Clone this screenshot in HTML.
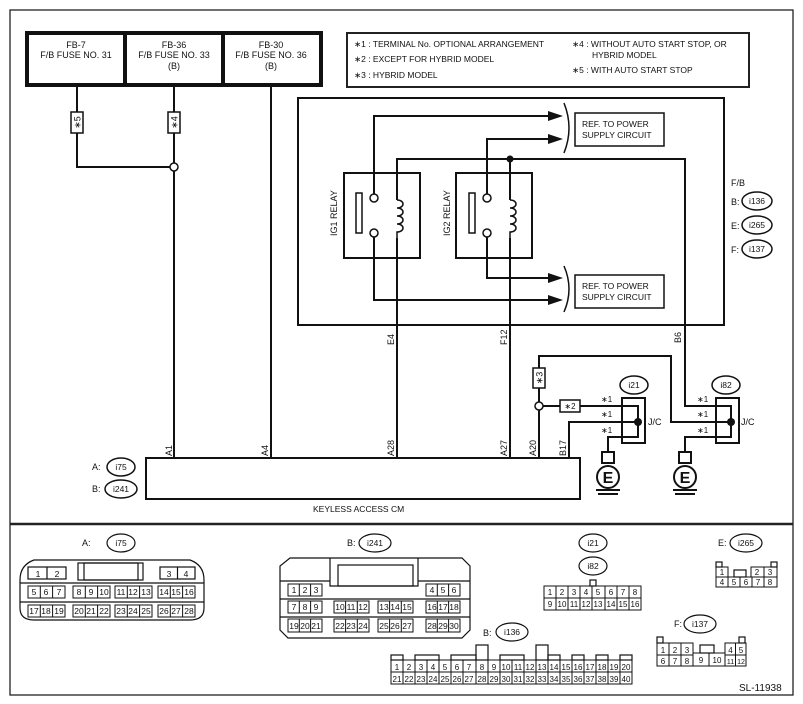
<!DOCTYPE html>
<html><head><meta charset="utf-8"><style>
html,body{margin:0;padding:0;background:#fff}
svg{display:block}
text{font-family:"Liberation Sans","DejaVu Sans",Arial,sans-serif;fill:#111}
.s{font-size:9px}
.c{font-size:8.5px;text-anchor:middle}
</style></head><body>
<svg width="803" height="704" viewBox="0 0 803 704" xmlns="http://www.w3.org/2000/svg">
<g fill="none" stroke="#222" stroke-width="1.3">
<rect x="10" y="10" width="783" height="685"/>
</g>
<line x1="10" y1="524" x2="793" y2="524" stroke="#222" stroke-width="2.5"/>

<rect x="27" y="33" width="294" height="52" fill="#fff" stroke="#111" stroke-width="4"/>
<line x1="125" y1="33" x2="125" y2="85" stroke="#111" stroke-width="4"/>
<line x1="223" y1="33" x2="223" y2="85" stroke="#111" stroke-width="4"/>
<g class="s" text-anchor="middle">
<text x="76" y="48">FB-7</text><text x="76" y="58">F/B FUSE NO. 31</text>
<text x="174" y="48">FB-36</text><text x="174" y="58">F/B FUSE NO. 33</text><text x="174" y="69">(B)</text>
<text x="271" y="48">FB-30</text><text x="271" y="58">F/B FUSE NO. 36</text><text x="271" y="69">(B)</text>
</g>

<rect x="347" y="33" width="402" height="54" fill="none" stroke="#222" stroke-width="2"/>
<g font-size="8.5">
<text x="354" y="47">∗1 : TERMINAL No. OPTIONAL ARRANGEMENT</text>
<text x="354" y="62">∗2 : EXCEPT FOR HYBRID MODEL</text>
<text x="354" y="78">∗3 : HYBRID MODEL</text>
<text x="572" y="47">∗4 : WITHOUT AUTO START STOP, OR</text>
<text x="592" y="58">HYBRID MODEL</text>
<text x="572" y="73">∗5 : WITH AUTO START STOP</text>
</g>

<g fill="none" stroke="#111" stroke-width="2">
<polyline points="77,86 77,167 174,167"/>
<line x1="174" y1="86" x2="174" y2="458"/>
<line x1="271" y1="86" x2="271" y2="458"/>
<rect x="298" y="98" width="426" height="227" stroke-width="2"/>
<rect x="344" y="173" width="76" height="85"/>
<rect x="456" y="173" width="76" height="85"/>
<polyline points="374,194 374,116 550,116"/>
<polyline points="374,237 374,300 550,300"/>
<polyline points="487,194 487,139 550,139"/>
<polyline points="487,237 487,278 550,278"/>
<polyline points="397,458 397,159 685,159 685,406 731,406 731,422"/>
<line x1="510" y1="159" x2="510" y2="458"/>
<polyline points="539,458 539,356 671,356 671,422 731,422"/>
<polyline points="539,406 638,406 638,422"/>
<polyline points="569,458 569,422 638,422"/>
<polyline points="608,448 608,437 638,437 638,422"/>
<polyline points="685,448 685,437 731,437 731,422"/>
</g>
<g fill="#fff" stroke="#111" stroke-width="1.5">
<rect x="71" y="112" width="12" height="21"/>
<rect x="168" y="112" width="12" height="21"/>
<rect x="533" y="368" width="12" height="20"/>
<rect x="560" y="400" width="20" height="12"/>
<rect x="356" y="193" width="6" height="40"/>
<rect x="469" y="193" width="6" height="40"/>
<circle cx="374" cy="198" r="4"/><circle cx="374" cy="233" r="4"/>
<circle cx="487" cy="198" r="4"/><circle cx="487" cy="233" r="4"/>
<rect x="392" y="200" width="14" height="38" stroke="none"/>
<rect x="505" y="200" width="14" height="38" stroke="none"/>
<circle cx="174" cy="167" r="4"/>
<circle cx="539" cy="406" r="4"/>
</g>
<g fill="none" stroke="#111" stroke-width="1.5">
<path d="M397,200 c8,0 8,8 0,8 c8,0 8,8 0,8 c8,0 8,8 0,8 c8,0 8,8 0,8 l0,6"/>
<path d="M510,200 c8,0 8,8 0,8 c8,0 8,8 0,8 c8,0 8,8 0,8 c8,0 8,8 0,8 l0,6"/>
<path d="M564,103 q10,25 0,50"/>
<path d="M564,266 q10,23 0,46"/>
</g>
<circle cx="510" cy="159" r="3.5" fill="#111"/>
<circle cx="638" cy="422" r="4" fill="#111"/>
<circle cx="731" cy="422" r="4" fill="#111"/>
<g fill="#111">
<polygon points="548,111 563,116 548,121"/>
<polygon points="548,134 563,139 548,144"/>
<polygon points="548,273 563,278 548,283"/>
<polygon points="548,295 563,300 548,305"/>
</g>
<g class="s">
<text transform="translate(337,236) rotate(-90)">IG1 RELAY</text>
<text transform="translate(450,236) rotate(-90)">IG2 RELAY</text>
<text transform="translate(80.5,122.5) rotate(-90)" text-anchor="middle">∗5</text>
<text transform="translate(177.5,122.5) rotate(-90)" text-anchor="middle">∗4</text>
<text transform="translate(542.5,378) rotate(-90)" text-anchor="middle">∗3</text>
<text x="570" y="409" font-size="8" text-anchor="middle">∗2</text>
</g>
<g fill="#fff" stroke="#111" stroke-width="1.5">
<rect x="575" y="113" width="89" height="33"/>
<rect x="575" y="275" width="89" height="33"/>
</g>
<g font-size="8.5">
<text x="582" y="127">REF. TO POWER</text><text x="582" y="138">SUPPLY CIRCUIT</text>
<text x="582" y="289">REF. TO POWER</text><text x="582" y="300">SUPPLY CIRCUIT</text>
</g>
<g class="s">
<text x="731" y="186">F/B</text>
<text x="731" y="205">B:</text><text x="731" y="229">E:</text><text x="731" y="253">F:</text>
</g>
<g fill="none" stroke="#111" stroke-width="1.5">
<ellipse cx="757" cy="201" rx="15" ry="9"/>
<ellipse cx="757" cy="225" rx="15" ry="9"/>
<ellipse cx="757" cy="249" rx="15" ry="9"/>
<ellipse cx="121" cy="467" rx="14" ry="9"/>
<ellipse cx="121" cy="489" rx="16" ry="9"/>
<ellipse cx="634" cy="385" rx="14" ry="9"/>
<ellipse cx="726" cy="385" rx="14" ry="9"/>
</g>
<g class="c">
<text x="757" y="204">i136</text><text x="757" y="228">i265</text><text x="757" y="252">i137</text>
<text x="121" y="470">i75</text><text x="121" y="492">i241</text>
<text x="634" y="388">i21</text><text x="726" y="388">i82</text>
</g>
<g class="s">
<text x="92" y="470">A:</text><text x="92" y="492">B:</text>
<text transform="translate(394,345) rotate(-90)">E4</text>
<text transform="translate(507,345) rotate(-90)">F12</text>
<text transform="translate(681,343) rotate(-90)">B6</text>
<text transform="translate(172,456) rotate(-90)">A1</text>
<text transform="translate(268,456) rotate(-90)">A4</text>
<text transform="translate(394,456) rotate(-90)">A28</text>
<text transform="translate(507,456) rotate(-90)">A27</text>
<text transform="translate(536,456) rotate(-90)">A20</text>
<text transform="translate(566,456) rotate(-90)">B17</text>
<text x="648" y="425">J/C</text><text x="741" y="425">J/C</text>
<text x="601" y="402" font-size="8">∗1</text><text x="601" y="417" font-size="8">∗1</text><text x="601" y="433" font-size="8">∗1</text>
<text x="697" y="402" font-size="8">∗1</text><text x="697" y="417" font-size="8">∗1</text><text x="697" y="433" font-size="8">∗1</text>
<text x="313" y="512" font-size="8.5">KEYLESS ACCESS CM</text>
</g>
<g fill="none" stroke="#111" stroke-width="2">
<rect x="622" y="398" width="23" height="45"/>
<rect x="716" y="398" width="23" height="45"/>
<rect x="146" y="458" width="434" height="41"/>
</g>
<g fill="#fff" stroke="#111" stroke-width="2">
<rect x="602" y="452" width="12" height="11"/>
<circle cx="608" cy="477" r="11"/>
<rect x="679" y="452" width="12" height="11"/>
<circle cx="685" cy="477" r="11"/>
</g>
<line x1="608" y1="448" x2="608" y2="452" stroke="#111" stroke-width="2"/>
<line x1="685" y1="448" x2="685" y2="452" stroke="#111" stroke-width="2"/>
<g stroke="#111" stroke-width="2">
<line x1="596" y1="490" x2="620" y2="490"/><line x1="598" y1="494" x2="618" y2="494"/>
<line x1="673" y1="490" x2="697" y2="490"/><line x1="675" y1="494" x2="695" y2="494"/>
</g>
<text x="608" y="483" font-size="16" font-weight="bold" text-anchor="middle">E</text>
<text x="685" y="483" font-size="16" font-weight="bold" text-anchor="middle">E</text>

<g fill="none" stroke="#111" stroke-width="1.2">
<ellipse cx="121" cy="543" rx="14" ry="9"/>
<path d="M34,560 L190,560 Q204,565 204,580 L204,608 Q204,620 190,620 L34,620 Q20,620 20,608 L20,580 Q20,565 34,560 Z"/>
<line x1="20" y1="583" x2="204" y2="583"/><line x1="20" y1="602" x2="204" y2="602"/>
<rect x="78" y="563" width="65" height="17"/><rect x="84" y="563" width="54" height="17"/>
<rect x="28" y="567" width="38" height="12"/><line x1="47" y1="567" x2="47" y2="579"/>
<rect x="160" y="567" width="35" height="12"/><line x1="177.5" y1="567" x2="177.5" y2="579"/>
<ellipse cx="375" cy="543" rx="16" ry="9"/>
<path d="M290,558 L462,558 L470,566 L470,630 L462,638 L288,638 L280,630 L280,566 Z"/>
<line x1="280" y1="581" x2="330" y2="581"/><line x1="418" y1="581" x2="470" y2="581"/>
<line x1="280" y1="599" x2="470" y2="599"/><line x1="280" y1="617" x2="470" y2="617"/>
<path d="M330,558 L330,586 L418,586 L418,558"/><rect x="338" y="565" width="75" height="21"/>
<ellipse cx="593" cy="543" rx="14" ry="9"/><ellipse cx="593" cy="566" rx="14" ry="9"/>
<rect x="590" y="580" width="6" height="6"/>
<ellipse cx="746" cy="543" rx="16" ry="9"/>
<rect x="716" y="562" width="6" height="5"/><rect x="771" y="562" width="6" height="5"/>
<rect x="734" y="570" width="12" height="7"/>
<ellipse cx="700" cy="624" rx="16" ry="9"/>
<rect x="657" y="637" width="6" height="6"/><rect x="739" y="637" width="6" height="6"/>
<rect x="700" y="645" width="14" height="8"/>
<ellipse cx="512" cy="632" rx="16" ry="9"/>
<rect x="391" y="655" width="12" height="5"/><rect x="415" y="655" width="24" height="5"/>
<rect x="451" y="655" width="25" height="5"/><rect x="476" y="645" width="12" height="15"/>
<rect x="500" y="655" width="24" height="5"/><rect x="536" y="645" width="12" height="15"/>
<rect x="548" y="655" width="12" height="5"/><rect x="572" y="655" width="12" height="5"/>
<rect x="596" y="655" width="12" height="5"/><rect x="620" y="655" width="12" height="5"/>
</g>
<g class="s"><text x="82" y="546">A:</text><text x="347" y="546">B:</text><text x="718" y="546">E:</text><text x="674" y="627">F:</text><text x="483" y="636">B:</text></g>
<g class="c"><text x="121" y="546">i75</text><text x="375" y="546">i241</text><text x="593" y="546">i21</text><text x="593" y="569">i82</text><text x="746" y="546">i265</text><text x="700" y="627">i137</text><text x="512" y="635">i136</text></g>

<g fill="none" stroke="#111" stroke-width="1">
<path d="M28,586h37v12h-37zM40.3,586v12M52.6,586v12 M73,586h37v12h-37zM85.3,586v12M97.6,586v12 M115,586h37v12h-37zM127.3,586v12M139.6,586v12 M158,586h37v12h-37zM170.3,586v12M182.6,586v12"/>
<path d="M28,605h37v12h-37zM40.3,605v12M52.6,605v12 M73,605h37v12h-37zM85.3,605v12M97.6,605v12 M115,605h37v12h-37zM127.3,605v12M139.6,605v12 M158,605h37v12h-37zM170.3,605v12M182.6,605v12"/>
<path d="M288,584h34v12h-34zM299.3,584v12M310.6,584v12 M426,584h34v12h-34zM437.3,584v12M448.6,584v12"/>
<path d="M288,601h34v12h-34zM299.3,601v12M310.6,601v12 M334,601h35v12h-35zM345.6,601v12M357.3,601v12 M378,601h35v12h-35zM389.6,601v12M401.3,601v12 M426,601h34v12h-34zM437.3,601v12M448.6,601v12"/>
<path d="M288,619h34v13h-34zM299.3,619v13M310.6,619v13 M334,619h35v13h-35zM345.6,619v13M357.3,619v13 M378,619h35v13h-35zM389.6,619v13M401.3,619v13 M426,619h34v13h-34zM437.3,619v13M448.6,619v13"/>
<path d="M544,586h97v24h-97zM544,598h97M556,586v24M568,586v24M580,586v24M592,586v24M605,586v24M617,586v24M629,586v24"/>
<path d="M716,567h12v10h-12zM751,567h26v10h-26zM764,567v10M716,577h61v10h-61zM728,577v10M740,577v10M752,577v10M764,577v10"/>
<path d="M657,643h36v23h-36zM657,655h36M669,643v23M681,643v23M693,653h32v13h-32zM709,653v13M725,643h21v23h-21zM725,655h21M735.5,643v23"/>
<path d="M391,660h241v24h-241zM391,672h241M403,660v24M415,660v24M427,660v24M439,660v24M451,660v24M463,660v24M476,660v24M488,660v24M500,660v24M512,660v24M524,660v24M536,660v24M548,660v24M560,660v24M572,660v24M584,660v24M596,660v24M608,660v24M620,660v24"/>
</g>

<g class="c">
<text x="38" y="577">1</text><text x="57" y="577">2</text><text x="169" y="577">3</text><text x="186" y="577">4</text>
<text x="34" y="595">5</text><text x="46" y="595">6</text><text x="59" y="595">7</text><text x="79" y="595">8</text><text x="91" y="595">9</text><text x="104" y="595">10</text><text x="121" y="595">11</text><text x="133" y="595">12</text><text x="146" y="595">13</text><text x="164" y="595">14</text><text x="176" y="595">15</text><text x="189" y="595">16</text>
<text x="34" y="614">17</text><text x="46" y="614">18</text><text x="59" y="614">19</text><text x="79" y="614">20</text><text x="91" y="614">21</text><text x="104" y="614">22</text><text x="121" y="614">23</text><text x="133" y="614">24</text><text x="146" y="614">25</text><text x="164" y="614">26</text><text x="176" y="614">27</text><text x="189" y="614">28</text>
<text x="294" y="593">1</text><text x="305" y="593">2</text><text x="316" y="593">3</text><text x="432" y="593">4</text><text x="443" y="593">5</text><text x="454" y="593">6</text>
<text x="294" y="610">7</text><text x="305" y="610">8</text><text x="316" y="610">9</text><text x="340" y="610">10</text><text x="351" y="610">11</text><text x="363" y="610">12</text><text x="384" y="610">13</text><text x="395" y="610">14</text><text x="407" y="610">15</text><text x="432" y="610">16</text><text x="443" y="610">17</text><text x="454" y="610">18</text>
<text x="294" y="629">19</text><text x="305" y="629">20</text><text x="316" y="629">21</text><text x="340" y="629">22</text><text x="351" y="629">23</text><text x="363" y="629">24</text><text x="384" y="629">25</text><text x="395" y="629">26</text><text x="407" y="629">27</text><text x="432" y="629">28</text><text x="443" y="629">29</text><text x="454" y="629">30</text>
<g font-size="8">
<text x="550" y="595">1</text><text x="562" y="595">2</text><text x="574" y="595">3</text><text x="586" y="595">4</text><text x="598" y="595">5</text><text x="611" y="595">6</text><text x="623" y="595">7</text><text x="635" y="595">8</text>
<text x="550" y="607">9</text><text x="562" y="607">10</text><text x="574" y="607">11</text><text x="586" y="607">12</text><text x="598" y="607">13</text><text x="611" y="607">14</text><text x="623" y="607">15</text><text x="635" y="607">16</text>
<text x="722" y="575">1</text><text x="757" y="575">2</text><text x="770" y="575">3</text>
<text x="722" y="585">4</text><text x="734" y="585">5</text><text x="746" y="585">6</text><text x="758" y="585">7</text><text x="770" y="585">8</text>
<text x="663" y="653">1</text><text x="675" y="653">2</text><text x="687" y="653">3</text><text x="730.5" y="653">4</text><text x="741" y="653">5</text>
<text x="663" y="664">6</text><text x="675" y="664">7</text><text x="687" y="664">8</text><text x="701" y="663">9</text><text x="717" y="663">10</text><text x="730.5" y="664" font-size="7">11</text><text x="741" y="664" font-size="7">12</text>
<text x="397" y="670">1</text><text x="409" y="670">2</text><text x="421" y="670">3</text><text x="433" y="670">4</text><text x="445" y="670">5</text><text x="457" y="670">6</text><text x="469" y="670">7</text><text x="482" y="670">8</text><text x="494" y="670">9</text><text x="506" y="670">10</text><text x="518" y="670">11</text><text x="530" y="670">12</text><text x="542" y="670">13</text><text x="554" y="670">14</text><text x="566" y="670">15</text><text x="578" y="670">16</text><text x="590" y="670">17</text><text x="602" y="670">18</text><text x="614" y="670">19</text><text x="626" y="670">20</text>
<text x="397" y="682">21</text><text x="409" y="682">22</text><text x="421" y="682">23</text><text x="433" y="682">24</text><text x="445" y="682">25</text><text x="457" y="682">26</text><text x="469" y="682">27</text><text x="482" y="682">28</text><text x="494" y="682">29</text><text x="506" y="682">30</text><text x="518" y="682">31</text><text x="530" y="682">32</text><text x="542" y="682">33</text><text x="554" y="682">34</text><text x="566" y="682">35</text><text x="578" y="682">36</text><text x="590" y="682">37</text><text x="602" y="682">38</text><text x="614" y="682">39</text><text x="626" y="682">40</text>
</g>
</g>
<text x="739" y="691" font-size="10">SL-11938</text>
</svg>
</body></html>
